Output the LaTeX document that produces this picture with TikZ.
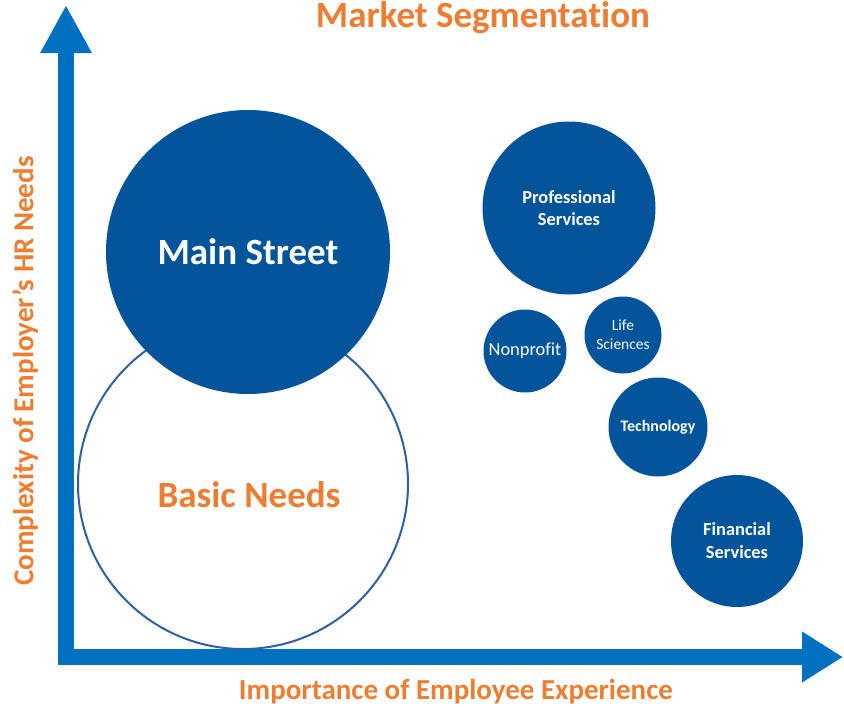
\documentclass[tikz,border=0pt]{standalone}
\usepackage{fontspec}
\setmainfont[Ligatures={NoCommon}]{Carlito}
\usetikzlibrary{arrows.meta}

\definecolor{segblue}{RGB}{3,84,154}
\definecolor{axisblue}{RGB}{0,112,192}
\definecolor{segorange}{RGB}{237,125,49}
\definecolor{ringblue}{RGB}{46,96,160}

\begin{document}
\begin{tikzpicture}[x=1pt,y=-1pt,
		bubble/.style={circle,fill=segblue,text=white,inner sep=0pt,align=center},
		ring/.style={circle,draw=ringblue,line width=2pt,inner sep=0pt},
		axistext/.style={text=segorange,font=\bfseries\fontsize{29}{32}\selectfont},
		axisline/.style={axisblue,line width=16pt,line join=miter}
		]
		\useasboundingbox (0,0) rectangle (844,707);

		% axes
		\coordinate (ytip) at (66,5);
		\coordinate (origin) at (66,657);
		\coordinate (xtip) at (843,657);
		\draw[axisline, {Triangle[length=48pt,width=48pt]}-{Triangle[length=41pt,width=48pt]}]
		(ytip) -- (origin) -- (xtip);

		\node[text=segorange, anchor=base, font=\bfseries\fontsize{37}{40}\selectfont] (title) at (483,27) {Market Segmentation};
		\node[axistext] (xlabel) at (456,692) {Importance of Employee Experience};
		\node[axistext, rotate=90] (ylabel) at (25,371) {Complexity of Employer’s HR Needs};

		% big segments
		\node[ring, minimum size=330pt] (basic) at (243,484) {};
		\node[text=segorange, font=\bfseries\fontsize{37}{40}\selectfont] (basictext) at (249,495) {Basic Needs};
		\node[bubble, minimum size=284pt, font=\bfseries\fontsize{37}{40}\selectfont] (mainst) at (248,252) {Main Street};

		% industries
		\node[bubble, minimum size=173pt, font=\bfseries\fontsize{18.4}{22}\selectfont] (prof) at (569,208) {Professional\\Services};
		\node[bubble, minimum size=83pt, font=\fontsize{18.4}{22}\selectfont] (nonprofit) at (525,351) {Nonprofit};
		\node[bubble, minimum size=77pt, font=\fontsize{15.5}{19}\selectfont] (life) at (623,335) {Life\\Sciences};
		\node[bubble, minimum size=99pt, font=\bfseries\fontsize{16}{19}\selectfont] (tech) at (658,427) {Technology};
		\node[bubble, minimum size=132pt, font=\bfseries\fontsize{18.4}{23}\selectfont] (fin) at (737,541) {Financial\\Services};
	\end{tikzpicture}
\end{document}
